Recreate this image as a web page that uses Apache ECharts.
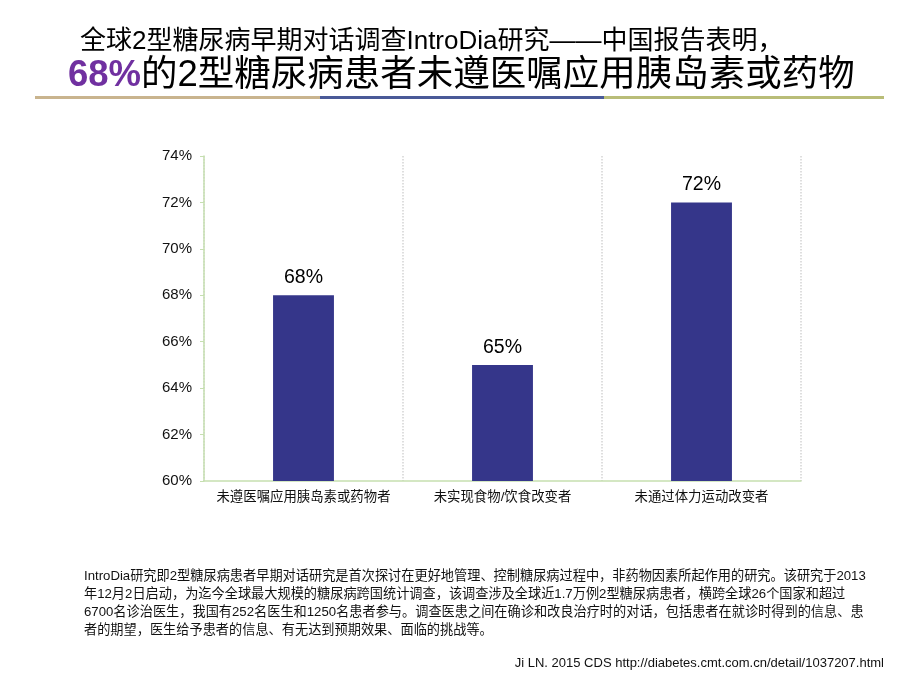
<!DOCTYPE html>
<html><head><meta charset="utf-8">
<script src="https://cdn.jsdelivr.net/npm/echarts@6/dist/echarts.min.js"></script>
<style>html,body{margin:0;padding:0;background:#fff}#c{width:920px;height:690px}</style>
</head><body><div id="c"></div>
<script>
const categories = ['未遵医嘱应用胰岛素或药物者', '未实现食物/饮食改变者', '未通过体力运动改变者'];
const values = [68, 65, 72];
const yTicks = { min: 60, max: 74, interval: 2 };
const titleLine1 = '全球2型糖尿病早期对话调查IntroDia研究——中国报告表明，';
const titleHighlight = '68%';
const titleLine2 = '的2型糖尿病患者未遵医嘱应用胰岛素或药物';
const noteLines = [
  'IntroDia研究即2型糖尿病患者早期对话研究是首次探讨在更好地管理、控制糖尿病过程中，非药物因素所起作用的研究。该研究于2013',
  '年12月2日启动，为迄今全球最大规模的糖尿病跨国统计调查，该调查涉及全球近1.7万例2型糖尿病患者，横跨全球26个国家和超过',
  '6700名诊治医生，我国有252名医生和1250名患者参与。调查医患之间在确诊和改良治疗时的对话，包括患者在就诊时得到的信息、患',
  '者的期望，医生给予患者的信息、有无达到预期效果、面临的挑战等。'
];
const citation = 'Ji LN. 2015 CDS http://diabetes.cmt.com.cn/detail/1037207.html';

const FONT = '"Liberation Sans", Arial, "Noto Sans CJK SC", sans-serif';
const chart = echarts.init(document.getElementById('c'));
chart.setOption({
  animation: false,
  grid: { left: 204, right: 119, top: 156, bottom: 209 },
  xAxis: {
    type: 'category', data: categories,
    axisLine: { lineStyle: { color: '#c6dfb0', width: 1.5 } },
    axisTick: { show: false },
    axisLabel: { interval: 0, color: '#111', fontSize: 13.4, margin: 10, fontFamily: FONT },
    splitLine: { show: true, interval: 0, lineStyle: { color: '#d4d4d4', type: 'dotted', width: 1.5 } }
  },
  yAxis: {
    type: 'value', min: yTicks.min, max: yTicks.max, interval: yTicks.interval,
    axisLine: { show: true, lineStyle: { color: '#c6dfb0', width: 1.5 } },
    axisTick: { show: true, length: 4, lineStyle: { color: '#c6dfb0' } },
    axisLabel: { color: '#111', fontSize: 15, margin: 12, fontFamily: FONT, formatter: '{value}%' },
    splitLine: { show: false }
  },
  series: [{
    type: 'bar', data: values, barWidth: '30.6%',
    itemStyle: { color: '#35368a' },
    label: { show: true, position: 'top', distance: 8, formatter: '{c}%', fontSize: 19.5, color: '#000', fontFamily: FONT }
  }],
  graphic: [
    { type: 'text', left: 80, top: 29, style: { text: titleLine1, font: '26px ' + FONT, fill: '#000' } },
    { type: 'text', left: 68, top: 58, style: {
      text: '{h|' + titleHighlight + '}{b|' + titleLine2 + '}',
      rich: {
        h: { fontWeight: 'bold', fontSize: 36.5, fill: '#7030a0', fontFamily: FONT },
        b: { fontSize: 36.5, fill: '#000', fontFamily: FONT }
      }
    } },
    { type: 'rect', shape: { x: 35, y: 96, width: 285, height: 3 }, style: { fill: '#c9b48e' } },
    { type: 'rect', shape: { x: 320, y: 96, width: 284, height: 3 }, style: { fill: '#4a5a98' } },
    { type: 'rect', shape: { x: 604, y: 96, width: 280, height: 3 }, style: { fill: '#b9bd78' } },
    { type: 'text', left: 84, top: 567, style: { text: noteLines.join('\n'), font: '13.2px ' + FONT, fill: '#111', lineHeight: 18 } },
    { type: 'text', right: 36, top: 657, style: { text: citation, font: '13px ' + FONT, fill: '#111' } }
  ]
});
</script></body></html>
